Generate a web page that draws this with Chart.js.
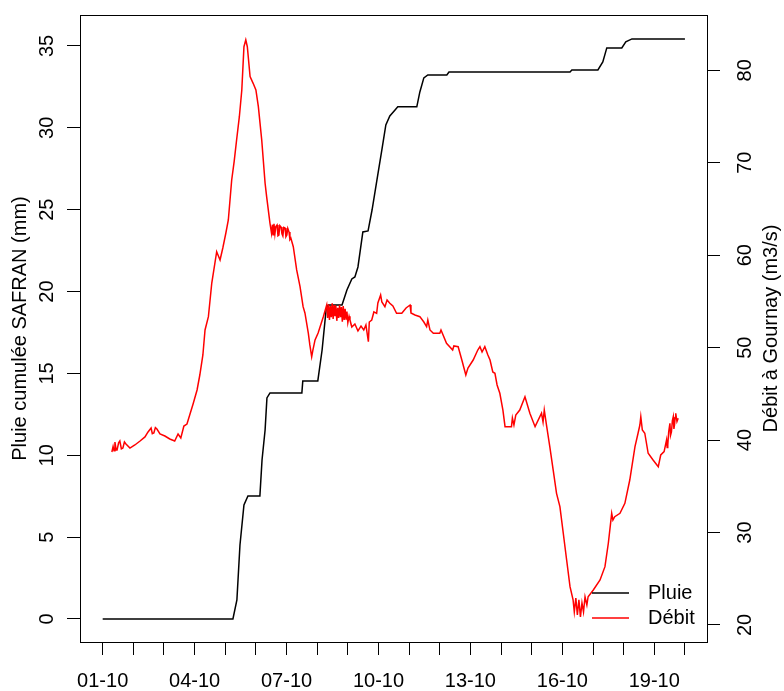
<!DOCTYPE html>
<html><head><meta charset="utf-8">
<script src="https://cdn.jsdelivr.net/npm/chart.js@4.4.1/dist/chart.umd.min.js"></script>
<style>html,body{margin:0;padding:0;background:#fff}#wrap{width:784px;height:691px}</style>
</head><body><div id="wrap"><canvas id="c" width="784" height="691"></canvas></div>
<script>
// ---- data (x in days since 01-10 00:00) ----
const dateLabels = ['01-10','02-10','03-10','04-10','05-10','06-10','07-10','08-10','09-10','10-10',
                    '11-10','12-10','13-10','14-10','15-10','16-10','17-10','18-10','19-10','20-10'];
const labelEvery = 3;
const leftTicks = [0,5,10,15,20,25,30,35];
const rightTicks = [20,30,40,50,60,70,80];
const leftTitle = 'Pluie cumulée SAFRAN (mm)';
const rightTitle = 'Débit à Gournay (m3/s)';
const seriesNames = ['Pluie','Débit'];

const pluieDays = [0,4.25,4.38,4.48,4.61,4.74,5.13,5.20,5.30,5.36,5.46,6.50,6.53,7.02,7.16,7.29,7.36,
  7.81,7.97,8.13,8.23,8.33,8.49,8.66,8.79,8.95,9.11,9.24,9.37,9.54,9.63,10.25,10.35,10.48,10.61,
  11.23,11.30,15.25,15.31,16.16,16.32,16.45,16.94,17.07,17.27,19.0];
const pluieMm = [0,0,1.16,4.52,6.96,7.51,7.51,9.71,11.54,13.5,13.81,13.81,14.54,14.54,16.43,18.87,19.18,
  19.18,20.1,20.77,20.89,21.5,23.64,23.7,24.98,26.82,28.65,30.18,30.72,31.09,31.28,31.28,32.19,33.05,33.23,
  33.23,33.41,33.41,33.53,33.53,34.02,34.88,34.88,35.25,35.43,35.43];

const debitDays = [
  0.30,0.34,0.37,0.40,0.44,0.47,0.52,0.56,0.61,0.66,0.71,0.76,0.89,1.05,1.22,1.38,
  1.48,1.58,1.62,1.67,1.72,1.77,1.87,2.03,2.19,2.35,2.46,2.55,
  2.65,2.75,2.85,2.95,3.08,3.17,3.27,3.34,3.45,3.56,
  3.72,3.83,3.92,4.02,4.10,4.21,4.29,4.37,4.46,4.54,
  4.61,4.67,4.72,4.81,4.91,5.00,5.08,5.19,5.30,5.35,5.46,
  5.51,5.54,5.56,5.59,5.62,5.65,5.69,5.72,5.75,5.78,5.82,5.85,5.88,5.91,5.95,5.98,6.01,6.04,6.08,6.11,6.14,
  6.22,6.33,6.44,6.54,6.60,6.71,6.76,6.82,6.86,6.93,7.03,7.20,
  7.31,7.34,7.37,7.40,7.43,7.46,7.49,7.52,7.55,7.58,7.61,7.64,7.67,7.70,7.73,7.76,7.79,7.82,7.85,7.88,
  7.91,7.94,7.97,8.00,8.04,8.07,
  8.13,8.23,8.33,8.43,8.52,8.59,8.67,8.70,8.78,8.85,8.94,8.98,9.07,9.11,9.21,9.28,9.37,9.47,9.59,9.76,
  9.90,10.03,10.06,10.19,10.35,10.48,10.57,10.61,10.68,10.79,11.00,11.04,11.22,11.42,11.46,11.60,11.72,
  11.85,11.92,12.09,12.24,12.31,12.38,12.47,12.57,12.64,12.73,12.80,12.87,12.96,13.06,13.13,13.34,13.37,
  13.42,13.48,13.61,13.78,13.94,14.11,14.32,14.37,14.41,14.49,14.59,14.70,14.81,14.92,15.03,15.14,15.25,
  15.35,15.39,15.44,15.49,15.54,15.59,15.64,15.69,15.74,15.80,15.84,16.01,16.23,16.39,16.50,16.61,16.65,
  16.71,16.88,17.04,17.20,17.37,17.47,17.53,17.56,17.61,17.69,17.80,17.96,18.13,18.21,18.32,
  18.40,18.42,18.44,18.47,18.51,18.53,18.56,18.59,18.62,18.64,18.66,18.68,18.70,18.74,18.78];
const debitM3s = [
  38.71,39.30,38.85,39.79,38.95,38.93,39.70,39.90,39.05,39.14,39.80,39.58,39.14,39.47,39.90,40.34,
  40.88,41.31,40.70,40.77,41.35,41.20,40.66,40.44,40.12,39.90,40.66,40.23,
  41.52,41.74,42.82,43.90,45.42,47.04,49.21,51.91,53.35,56.99,
  60.38,59.48,60.78,62.40,63.81,68.13,70.11,72.46,74.98,77.87,
  82.55,83.28,82.55,79.31,78.59,77.87,76.06,72.46,67.78,66.33,63.45,
  62.37,63.3,62.2,63.4,62.29,63.1,63.27,62.1,62.18,63.2,63.05,62.3,62.07,63.0,62.94,62.0,62.18,62.9,62.51,61.7,61.86,
  60.92,58.40,56.59,54.43,53.75,51.58,50.29,49.02,49.74,50.83,51.58,53.35,
  54.61,53.2,54.7,53.0,54.5,53.3,54.8,53.1,54.6,53.4,54.5,52.9,54.3,53.2,54.6,53.3,54.4,52.8,54.5,53.0,
  54.2,53.1,53.9,52.7,53.4,52.99,
  52.23,52.56,51.80,52.34,51.91,52.45,50.64,52.77,52.99,53.86,53.71,54.83,55.69,54.94,54.43,55.15,54.80,54.50,53.71,53.71,
  54.29,54.61,53.75,53.53,53.35,52.77,52.27,52.99,51.91,51.55,51.55,51.91,50.47,49.74,50.18,50.10,48.66,
  47.04,47.80,48.66,49.74,50.10,49.53,50.10,49.21,48.66,47.37,47.23,45.96,45.06,43.25,41.45,41.45,42.39,
  41.63,42.71,43.25,44.69,42.90,41.45,42.90,41.96,43.25,41.45,39.29,36.77,34.24,32.80,29.92,27.03,24.14,
  22.71,21.41,22.92,21.08,22.71,20.87,22.38,21.41,23.03,22.16,23.06,23.79,24.87,26.31,28.84,32.08,31.36,
  31.71,32.08,33.16,35.68,39.29,40.74,41.63,42.53,41.09,40.74,38.57,37.85,37.12,38.39,38.75,
  40.01,39.2,39.47,40.9,41.82,40.5,40.88,42.1,42.53,41.2,41.63,42.4,42.89,42.0,42.36];

// ---- chart ----
const FONT = '"Liberation Sans", Arial, Helvetica, sans-serif';
Chart.defaults.font.family = FONT;
Chart.defaults.font.size = 20;
Chart.defaults.color = '#000';

const pts = (xs, ys) => xs.map((x, i) => ({x: x, y: ys[i]}));
const noPad = s => { s.paddingTop = 0; s.paddingBottom = 0; s.paddingLeft = 0; s.paddingRight = 0; };

const boxAndExtras = {
  id: 'boxAndExtras',
  afterDatasetsDraw(chart) {
    const {ctx, chartArea: a} = chart;
    ctx.save();
    ctx.strokeStyle = '#000';
    ctx.lineWidth = 1;
    ctx.strokeRect(Math.round(a.left) + 0.5, Math.round(a.top) + 0.5,
                   Math.round(a.right - a.left), Math.round(a.bottom - a.top));
    // legend (bottom-right, no box)
    const rows = [a.bottom - 49, a.bottom - 24];
    ctx.font = '20px ' + FONT;
    ctx.textBaseline = 'middle';
    ctx.textAlign = 'left';
    seriesNames.forEach((name, k) => {
      const ds = chart.data.datasets.find(d => d.label === name);
      const y = Math.round(rows[k]);
      ctx.strokeStyle = ds.borderColor;
      ctx.lineWidth = 1.5;
      ctx.beginPath();
      ctx.moveTo(a.right - 115, y);
      ctx.lineTo(a.right - 78, y);
      ctx.stroke();
      ctx.fillStyle = '#000';
      ctx.fillText(name, a.right - 59, y);
    });
    // right axis title (reads bottom to top)
    ctx.save();
    ctx.translate(771, (a.top + a.bottom) / 2);
    ctx.rotate(-Math.PI / 2);
    ctx.textAlign = 'center';
    ctx.fillText(rightTitle, 0, 0);
    ctx.restore();
    ctx.restore();
  }
};

new Chart(document.getElementById('c'), {
  type: 'line',
  data: {
    datasets: [
      {label: seriesNames[0], data: pts(pluieDays, pluieMm), yAxisID: 'y',
       borderColor: '#000000', borderWidth: 1.5, pointRadius: 0, tension: 0, order: 1},
      {label: seriesNames[1], data: pts(debitDays, debitM3s), yAxisID: 'y2',
       borderColor: '#ff0000', borderWidth: 1.5, pointRadius: 0, tension: 0, order: 0}
    ]
  },
  options: {
    responsive: false,
    animation: false,
    devicePixelRatio: 1,
    layout: {padding: {top: 15, left: 0, right: 0, bottom: 0}},
    plugins: {legend: {display: false}, tooltip: {enabled: false}},
    scales: {
      x: {
        type: 'linear', position: 'bottom', min: -0.74, max: 19.72,
        afterBuildTicks: s => { s.ticks = dateLabels.map((_, i) => ({value: i})); },
        afterFit: s => { s.height = 49; noPad(s); },
        ticks: {autoSkip: false, maxRotation: 0, minRotation: 0, padding: 14,
                callback: (v, i) => (i % labelEvery === 0 ? dateLabels[i] : '')},
        grid: {display: true, drawOnChartArea: false, drawTicks: true, tickLength: 13,
               tickColor: '#000', lineWidth: 1},
        border: {display: false}
      },
      y: {
        type: 'linear', position: 'left', min: -1.405, max: 36.89,
        afterBuildTicks: s => { s.ticks = leftTicks.map(v => ({value: v})); },
        afterFit: s => { s.width = 80; noPad(s); },
        ticks: {minRotation: 90, maxRotation: 90, crossAlign: 'center', padding: 8},
        grid: {display: true, drawOnChartArea: false, drawTicks: true, tickLength: 13,
               tickColor: '#000', lineWidth: 1},
        border: {display: false},
        title: {display: true, text: leftTitle, font: {size: 20}, padding: {top: 8, bottom: 0}}
      },
      y2: {
        type: 'linear', position: 'right', min: 18.16, max: 85.98,
        afterBuildTicks: s => { s.ticks = rightTicks.map(v => ({value: v})); },
        afterFit: s => { s.width = 77; noPad(s); },
        ticks: {minRotation: 90, maxRotation: 90, crossAlign: 'center', padding: 14},
        grid: {display: true, drawOnChartArea: false, drawTicks: true, tickLength: 13,
               tickColor: '#000', lineWidth: 1},
        border: {display: false}
      }
    }
  },
  plugins: [boxAndExtras]
});
</script></body></html>
